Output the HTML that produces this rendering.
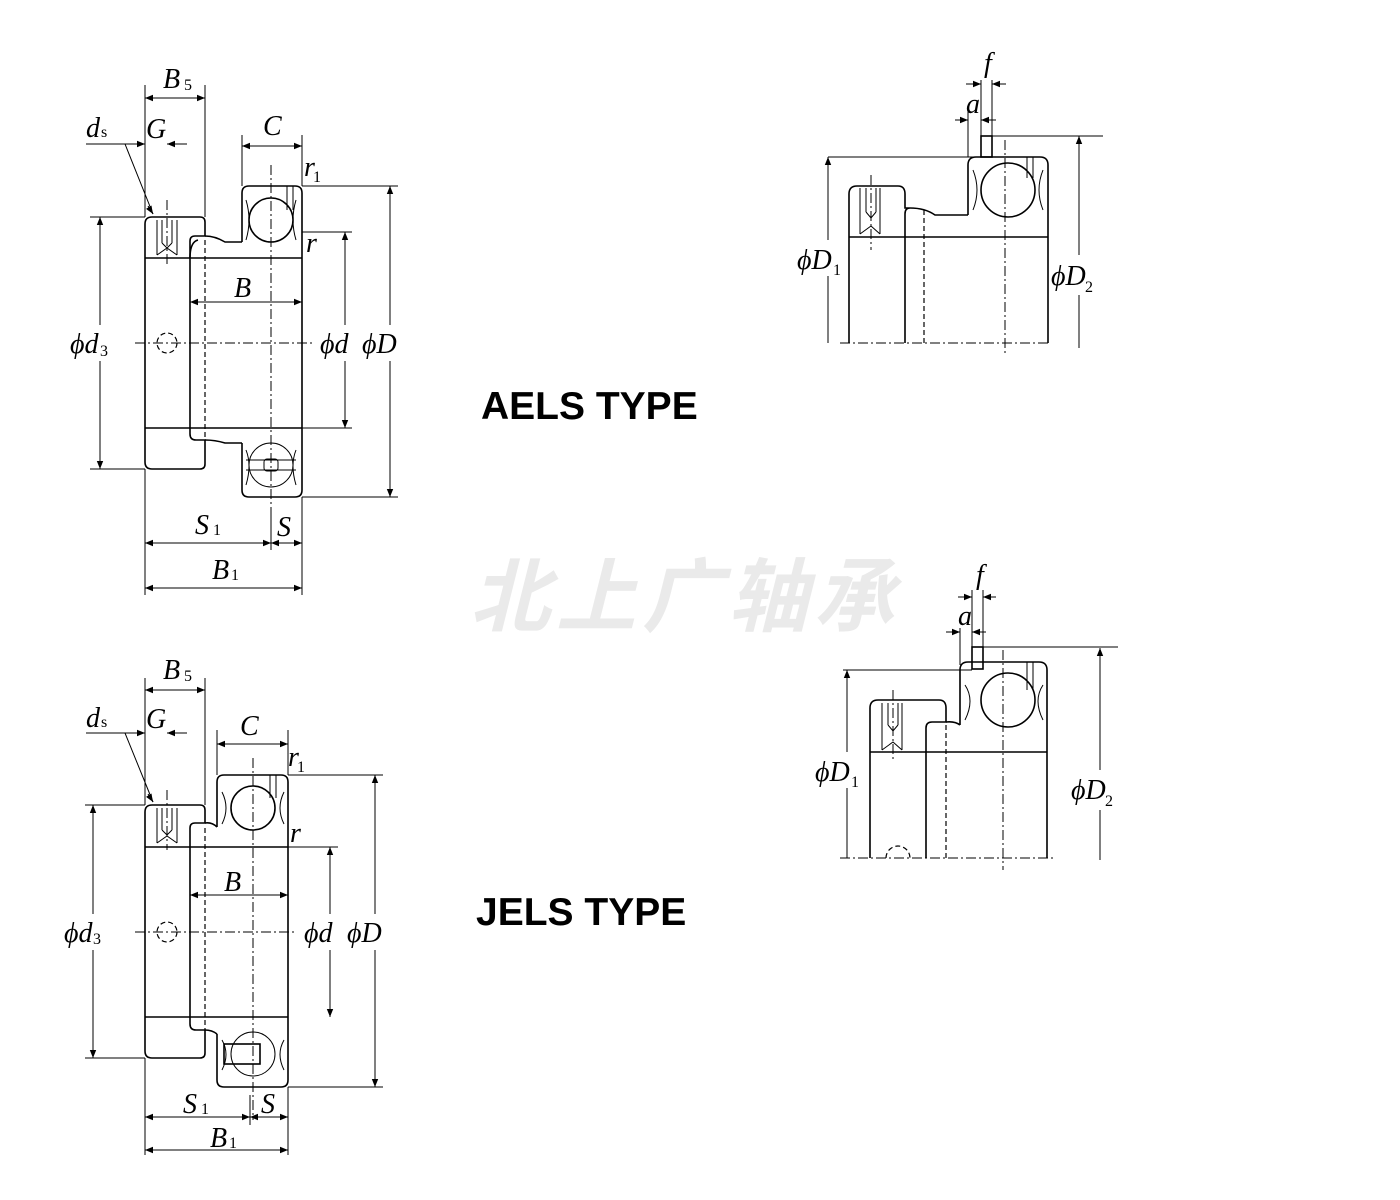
<!DOCTYPE html>
<html><head><meta charset="utf-8"><style>
html,body{margin:0;padding:0;background:#fff;}
svg{display:block;}
.l{fill:none;stroke:#000;stroke-width:1.6;}
.t{fill:none;stroke:#000;stroke-width:1;}
.d{fill:none;stroke:#000;stroke-width:1;stroke-dasharray:10,3,2,3;}
.dash{fill:none;stroke:#000;stroke-width:1.2;stroke-dasharray:5,3;}
.lab{font-family:"Liberation Serif",serif;font-style:italic;font-size:28px;fill:#000;}
.sub{font-family:"Liberation Serif",serif;font-size:16px;fill:#000;}
.ttl{font-family:"Liberation Sans",sans-serif;font-weight:bold;font-size:39px;fill:#000;}
</style></head><body>
<svg width="1400" height="1200" viewBox="0 0 1400 1200" xmlns="http://www.w3.org/2000/svg">
<defs>
<marker id="a" viewBox="0 0 10 10" refX="10" refY="5" markerWidth="10" markerHeight="8" orient="auto-start-reverse" markerUnits="userSpaceOnUse"><path d="M0,1 L10,5 L0,9 z" fill="#000"/></marker>
</defs>

<!-- watermark -->
<text x="470" y="625" font-family="'Noto Sans CJK SC',sans-serif" font-weight="bold" font-style="italic" font-size="80" fill="#eaeaea" letter-spacing="6">北上广轴承</text>

<!-- ============ AELS left ============ -->
<g>
<path class="l" d="M152,217 H200 Q205,217 205,222 V236 H195 Q190,236 190,241 V258"/>
<path class="l" d="M145,224 Q145,217 152,217 M145,224 V462 Q145,469 152,469 H200 Q205,469 205,464 V440 H196 Q190,440 190,434 V428"/>
<path class="l" d="M145,258 H190 M145,428 H190"/>
<path class="t" d="M157,220 V255 M177,220 V255 M162,220 V243 M172,220 V243 M162,243 L167,248 L172,243 M157,255 L167,248 L177,255"/>
<path class="l" d="M190,258 V428 M190,258 H302 M190,428 H302"/>
<path class="l" d="M205,236 Q215,236 225,242 H242 M205,440 Q215,440 225,443 H242"/>
<path class="l" d="M190,258 Q190,242 198,240 M302,258 V428"/>
<path class="l" d="M242,242 V193 Q242,186 249,186 H295 Q302,186 302,193 V258"/>
<path class="l" d="M242,443 V490 Q242,497 249,497 H295 Q302,497 302,490 V428"/>
<circle class="l" cx="271" cy="220" r="22"/>
<circle class="t" cx="271" cy="465" r="22"/>
<path class="t" d="M246,200 Q252,220 246,240 M296,200 Q290,220 296,240 M246,450 Q252,465 246,485 M296,450 Q290,465 296,485"/>
<path class="t" d="M287,186 V210 M293,186 V210 M246,460 H296 M246,470 H296"/>
<rect class="t" x="264" y="459" width="14" height="12" rx="3"/>
<path class="dash" d="M205,240 V440"/>
<circle class="dash" cx="167" cy="343" r="10"/>
<path class="d" d="M135,343 H312 M271,165 V520 M167,200 V265"/>
<path class="t" d="M145,85 V217 M205,85 V217 M242,135 V186 M302,135 V186 M302,186 H398 M302,428 H352 M302,497 H398 M90,217 H145 M90,469 H145 M145,469 V595 M302,497 V595 M271,510 V550 M302,232 H352"/>
<path class="t" d="M145,98 H205" marker-start="url(#a)" marker-end="url(#a)"/>
<path class="t" d="M242,146 H302" marker-start="url(#a)" marker-end="url(#a)"/>
<path class="t" d="M125,144 H145" marker-end="url(#a)"/>
<path class="t" d="M187,144 H167" marker-end="url(#a)"/>
<path class="t" d="M86,144 H125 L153,214" />
<path class="t" d="M148,206 L153,214" marker-end="url(#a)"/>
<path class="t" d="M390,186 V497" marker-start="url(#a)" marker-end="url(#a)"/>
<path class="t" d="M345,232 V428" marker-start="url(#a)" marker-end="url(#a)"/>
<path class="t" d="M100,217 V469" marker-start="url(#a)" marker-end="url(#a)"/>
<path class="t" d="M190,302 H302" marker-start="url(#a)" marker-end="url(#a)"/>
<path class="t" d="M145,543 H271" marker-start="url(#a)" marker-end="url(#a)"/>
<path class="t" d="M271,543 H302" marker-start="url(#a)" marker-end="url(#a)"/>
<path class="t" d="M145,588 H302" marker-start="url(#a)" marker-end="url(#a)"/>
<rect x="375" y="325" width="30" height="36" fill="#fff"/>
<rect x="332" y="325" width="28" height="36" fill="#fff"/>
<rect x="82" y="325" width="30" height="36" fill="#fff"/>
<rect x="233" y="273" width="26" height="28" fill="#fff"/>
<text class="lab" x="163" y="88">B</text><text class="sub" x="184" y="90">5</text>
<text class="lab" x="86" y="137">d</text><text class="sub" x="101" y="137">s</text>
<text class="lab" x="146" y="138">G</text>
<text class="lab" x="263" y="135">C</text>
<text class="lab" x="304" y="176">r</text><text class="sub" x="313" y="182">1</text>
<text class="lab" x="306" y="252">r</text>
<text class="lab" x="234" y="297">B</text>
<text class="lab" x="320" y="353">ϕd</text>
<text class="lab" x="362" y="353">ϕD</text>
<text class="lab" x="70" y="353">ϕd</text><text class="sub" x="100" y="356">3</text>
<text class="lab" x="195" y="534">S</text><text class="sub" x="213" y="535">1</text>
<text class="lab" x="277" y="536">S</text>
<text class="lab" x="212" y="579">B</text><text class="sub" x="231" y="580">1</text>
</g>

<text class="ttl" x="481" y="419">AELS TYPE</text>
<text class="ttl" x="476" y="925">JELS TYPE</text>

<!-- ============ JELS left ============ -->
<g>
<path class="l" d="M145,812 Q145,805 152,805 H200 Q205,805 205,810 V823 H195 Q190,823 190,828 V847"/>
<path class="l" d="M145,812 V1051 Q145,1058 152,1058 H200 Q205,1058 205,1053 V1030 H196 Q190,1030 190,1024 V1017"/>
<path class="l" d="M145,847 H190 M145,1017 H190"/>
<path class="t" d="M157,808 V843 M177,808 V843 M162,808 V830 M172,808 V830 M162,830 L167,835 L172,830 M157,843 L167,836 L177,843"/>
<path class="l" d="M190,847 V1017 M190,847 H288 M190,1017 H288 M288,847 V1017"/>
<path class="l" d="M205,823 Q212,822 217,827 M205,1030 Q212,1030 217,1034"/>
<path class="l" d="M217,827 V782 Q217,775 224,775 H281 Q288,775 288,782 V847"/>
<path class="l" d="M217,1034 V1080 Q217,1087 224,1087 H281 Q288,1087 288,1080 V1017"/>
<circle class="l" cx="253" cy="808" r="22"/>
<circle class="t" cx="253" cy="1054" r="22"/>
<path class="t" d="M222,792 Q230,808 222,824 M284,792 Q276,808 284,824 M222,1040 Q230,1054 222,1070 M284,1040 Q276,1054 284,1070"/>
<path class="t" d="M270,775 V798 M276,775 V798"/>
<rect class="l" x="224" y="1044" width="36" height="20"/>
<path class="dash" d="M205,828 V1030"/>
<circle class="dash" cx="167" cy="932" r="10"/>
<path class="d" d="M135,932 H295 M253,758 V1120 M167,790 V850"/>
<path class="t" d="M145,678 V805 M205,678 V805 M217,730 V775 M288,730 V775 M288,775 H383 M288,847 H338 M288,1087 H383 M85,805 H145 M85,1058 H145 M145,1058 V1155 M288,1087 V1155 M250,1095 V1125"/>
<path class="t" d="M145,690 H205" marker-start="url(#a)" marker-end="url(#a)"/>
<path class="t" d="M217,744 H288" marker-start="url(#a)" marker-end="url(#a)"/>
<path class="t" d="M125,733 H145" marker-end="url(#a)"/>
<path class="t" d="M187,733 H167" marker-end="url(#a)"/>
<path class="t" d="M86,733 H125 L153,802"/>
<path class="t" d="M148,794 L153,802" marker-end="url(#a)"/>
<path class="t" d="M375,775 V1087" marker-start="url(#a)" marker-end="url(#a)"/>
<path class="t" d="M330,847 V1017" marker-start="url(#a)" marker-end="url(#a)"/>
<path class="t" d="M93,805 V1058" marker-start="url(#a)" marker-end="url(#a)"/>
<path class="t" d="M190,895 H288" marker-start="url(#a)" marker-end="url(#a)"/>
<path class="t" d="M145,1117 H250" marker-start="url(#a)" marker-end="url(#a)"/>
<path class="t" d="M250,1117 H288" marker-start="url(#a)" marker-end="url(#a)"/>
<path class="t" d="M145,1150 H288" marker-start="url(#a)" marker-end="url(#a)"/>
<rect x="360" y="914" width="30" height="36" fill="#fff"/>
<rect x="316" y="914" width="28" height="36" fill="#fff"/>
<rect x="76" y="914" width="30" height="36" fill="#fff"/>
<rect x="222" y="866" width="26" height="28" fill="#fff"/>
<text class="lab" x="163" y="679">B</text><text class="sub" x="184" y="681">5</text>
<text class="lab" x="86" y="727">d</text><text class="sub" x="101" y="727">s</text>
<text class="lab" x="146" y="728">G</text>
<text class="lab" x="240" y="735">C</text>
<text class="lab" x="288" y="766">r</text><text class="sub" x="297" y="772">1</text>
<text class="lab" x="290" y="842">r</text>
<text class="lab" x="224" y="891">B</text>
<text class="lab" x="304" y="942">ϕd</text>
<text class="lab" x="347" y="942">ϕD</text>
<text class="lab" x="64" y="942">ϕd</text><text class="sub" x="93" y="944">3</text>
<text class="lab" x="183" y="1113">S</text><text class="sub" x="201" y="1114">1</text>
<text class="lab" x="261" y="1113">S</text>
<text class="lab" x="210" y="1147">B</text><text class="sub" x="229" y="1148">1</text>
</g>

<!-- ============ Right top ============ -->
<g>
<path class="l" d="M849,343 V194 Q849,186 857,186 H898 Q905,186 905,194 V208 H910 Q905,208 905,214 V343"/>
<path class="l" d="M849,237 H905 M905,237 H1048 M1048,237 V343"/>
<path class="l" d="M910,208 Q925,208 935,215 H968"/>
<path class="l" d="M968,215 V165 Q968,157 976,157 H1040 Q1048,157 1048,165 V237"/>
<path class="t" d="M860,188 V234 M880,188 V234 M866,188 V212 M876,188 V212 M866,212 L871,218 L876,212 M860,234 L871,226 L880,234"/>
<rect class="l" x="981" y="136" width="11" height="21"/>
<circle class="l" cx="1008" cy="190" r="27"/>
<path class="t" d="M973,170 Q981,190 973,210 M1043,170 Q1035,190 1043,210 M1027,157 V178 M1033,157 V178"/>
<path class="dash" d="M924,210 V343"/>
<path class="d" d="M840,343 H1050 M1005,140 V355 M871,175 V250"/>
<path class="t" d="M828,157 H981 M992,136 H1103 M968,110 V157 M981,80 V136 M992,80 V136"/>
<path class="t" d="M828,157 V343" marker-start="url(#a)"/>
<path class="t" d="M1079,136 V348" marker-start="url(#a)"/>
<path class="t" d="M955,120 H968" marker-end="url(#a)"/>
<path class="t" d="M996,120 H981" marker-end="url(#a)"/>
<path class="t" d="M966,84 H981" marker-end="url(#a)"/>
<path class="t" d="M1006,84 H992" marker-end="url(#a)"/>
<rect x="797" y="240" width="48" height="36" fill="#fff"/>
<rect x="1050" y="255" width="48" height="40" fill="#fff"/>
<text class="lab" x="984" y="72">f</text>
<text class="lab" x="966" y="113">a</text>
<text class="lab" x="797" y="269">ϕD</text><text class="sub" x="833" y="275">1</text>
<text class="lab" x="1051" y="285">ϕD</text><text class="sub" x="1085" y="292">2</text>
</g>

<!-- ============ Right bottom ============ -->
<g>
<path class="l" d="M870,858 V708 Q870,700 878,700 H939 Q946,700 946,708 V722 H932 Q926,722 926,728 V858"/>
<path class="l" d="M870,752 H926 M926,752 H1047 M1047,752 V858"/>
<path class="l" d="M946,722 Q955,721 960,725"/>
<path class="l" d="M960,725 V670 Q960,662 968,662 H1039 Q1047,662 1047,670 V752"/>
<path class="t" d="M882,703 V750 M902,703 V750 M888,703 V725 M898,703 V725 M888,725 L893,731 L898,725 M882,750 L893,742 L902,750"/>
<rect class="l" x="972" y="647" width="11" height="22"/>
<circle class="l" cx="1008" cy="700" r="27"/>
<path class="t" d="M965,685 Q975,700 965,720 M1043,685 Q1033,700 1043,720 M1027,662 V690 M1033,662 V690"/>
<path class="dash" d="M946,725 V858"/>
<path class="dash" d="M886,858 A12,12 0 0 1 910,858"/>
<path class="d" d="M840,858 H1055 M1003,650 V870 M893,690 V762"/>
<path class="t" d="M843,670 H972 M983,647 H1118 M960,628 V665 M972,590 V647 M983,590 V647"/>
<path class="t" d="M847,670 V858" marker-start="url(#a)"/>
<path class="t" d="M1100,648 V860" marker-start="url(#a)"/>
<path class="t" d="M946,632 H960" marker-end="url(#a)"/>
<path class="t" d="M986,632 H972" marker-end="url(#a)"/>
<path class="t" d="M958,597 H972" marker-end="url(#a)"/>
<path class="t" d="M996,597 H983" marker-end="url(#a)"/>
<rect x="815" y="752" width="48" height="36" fill="#fff"/>
<rect x="1070" y="770" width="48" height="40" fill="#fff"/>
<text class="lab" x="976" y="584">f</text>
<text class="lab" x="958" y="625">a</text>
<text class="lab" x="815" y="781">ϕD</text><text class="sub" x="851" y="787">1</text>
<text class="lab" x="1071" y="799">ϕD</text><text class="sub" x="1105" y="806">2</text>
</g>
</svg>
</body></html>
